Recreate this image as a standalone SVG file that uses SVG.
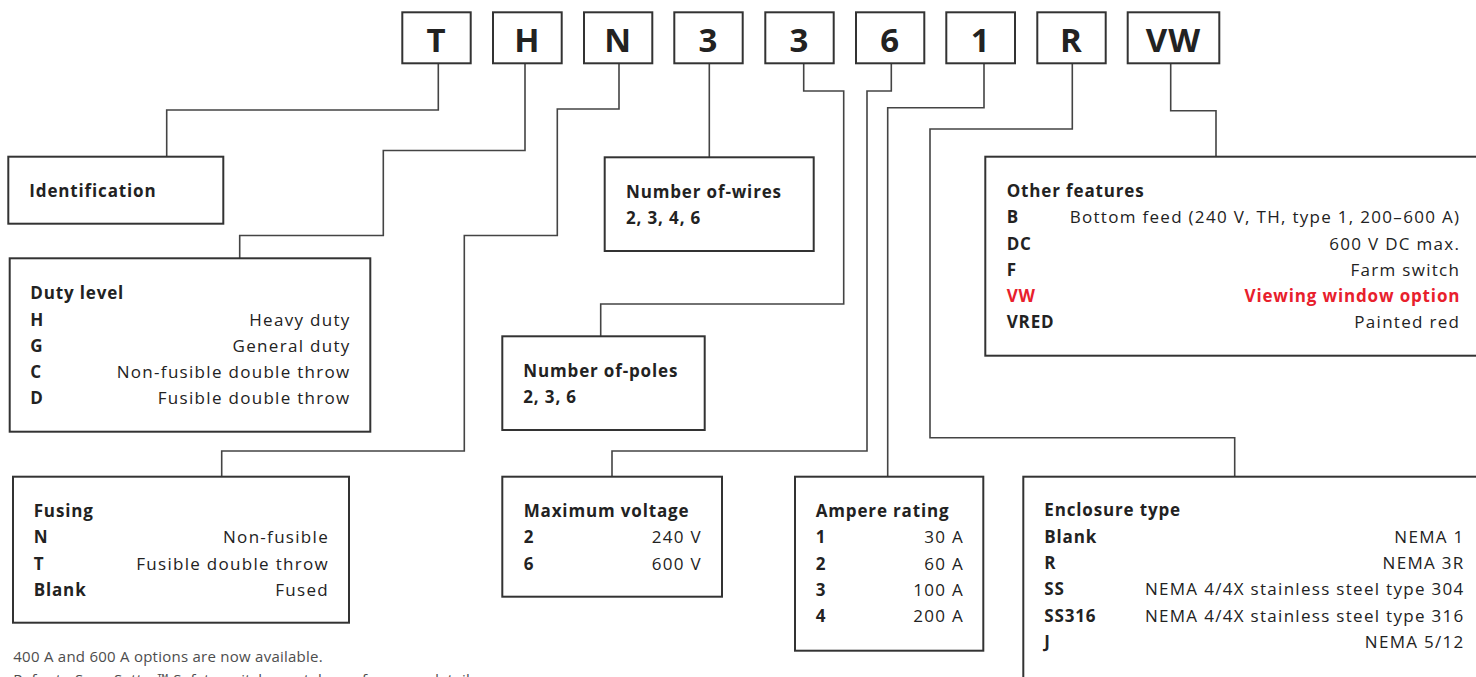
<svg xmlns="http://www.w3.org/2000/svg" width="1476" height="677" viewBox="0 0 1476 677">
<style>
.box{fill:#fff;stroke:#333;stroke-width:2}
.con{fill:none;stroke:#444;stroke-width:1.6}
text{font-family:"Open Sans","Noto Sans","Liberation Sans",sans-serif;fill:#222}
.big{font-size:33px;font-weight:700;text-anchor:middle;letter-spacing:1px}
.h{font-size:17px;font-weight:700;letter-spacing:0.85px}
.k{font-size:17px;font-weight:700;letter-spacing:0.85px}
.v{font-size:17px;font-weight:400;letter-spacing:1.3px;text-anchor:end}
.red{fill:#e8202c}
.note{font-size:15px;fill:#4d4d4d;letter-spacing:0.25px}
</style>
<g id="connectors">
<polyline class="con" points="438.3,63 438.3,110 166.7,110 166.7,156.7"/>
<polyline class="con" points="525,63 525,150.5 383.3,150.5 383.3,235.5 239.7,235.5 239.7,258.3"/>
<polyline class="con" points="619,63 619,109 557.3,109 557.3,235.5 464.3,235.5 464.3,451 221.7,451 221.7,476.7"/>
<polyline class="con" points="709.3,63 709.3,157.3"/>
<polyline class="con" points="803.7,63 803.7,91 843.7,91 843.7,304 600.7,304 600.7,336.3"/>
<polyline class="con" points="891.3,63 891.3,91 867,91 867,451 612,451 612,476.7"/>
<polyline class="con" points="984,63 984,107.7 887.7,107.7 887.7,476.7"/>
<polyline class="con" points="1072.3,63 1072.3,129 930,129 930,437.7 1234.7,437.7 1234.7,476.7"/>
<polyline class="con" points="1170.7,63 1170.7,110.7 1216,110.7 1216,156.7"/>
</g>
<g id="code-T"><rect class="box" x="402.3" y="12.3" width="68.4" height="51"/><text class="big" x="436.5" y="52">T</text></g>
<g id="code-H"><rect class="box" x="493" y="12.3" width="68.7" height="51"/><text class="big" x="527.3" y="52">H</text></g>
<g id="code-N"><rect class="box" x="584" y="12.3" width="68.3" height="51"/><text class="big" x="618.2" y="52">N</text></g>
<g id="code-3a"><rect class="box" x="674.3" y="12.3" width="68.4" height="51"/><text class="big" x="708.5" y="52">3</text></g>
<g id="code-3b"><rect class="box" x="765.3" y="12.3" width="68.4" height="51"/><text class="big" x="799.5" y="52">3</text></g>
<g id="code-6"><rect class="box" x="856" y="12.3" width="68.3" height="51"/><text class="big" x="890.2" y="52">6</text></g>
<g id="code-1"><rect class="box" x="946.3" y="12.3" width="68.7" height="51"/><text class="big" x="980.7" y="52">1</text></g>
<g id="code-R"><rect class="box" x="1037.3" y="12.3" width="68.4" height="51"/><text class="big" x="1071.5" y="52">R</text></g>
<g id="code-VW"><rect class="box" x="1127.7" y="12.3" width="91.6" height="51"/><text class="big" x="1173.5" y="52">VW</text></g>

<g id="identification"><rect class="box" x="8.3" y="156.7" width="215" height="67"/><text class="h" x="29.3" y="197.3">Identification</text></g>

<g id="duty-level"><rect class="box" x="9.7" y="258.3" width="360.6" height="173.4"/>
<text class="h" x="30.3" y="299.3">Duty level</text>
<text class="k" x="30.3" y="325.5">H</text><text class="v" x="350.6" y="325.5">Heavy duty</text>
<text class="k" x="30.3" y="351.7">G</text><text class="v" x="350.6" y="351.7">General duty</text>
<text class="k" x="30.3" y="378">C</text><text class="v" x="350.6" y="378">Non-fusible double throw</text>
<text class="k" x="30.3" y="404.3">D</text><text class="v" x="350.6" y="404.3">Fusible double throw</text>
</g>

<g id="fusing"><rect class="box" x="13" y="476.7" width="336" height="146"/>
<text class="h" x="33.7" y="517.3">Fusing</text>
<text class="k" x="33.7" y="543.3">N</text><text class="v" x="329" y="543.3">Non-fusible</text>
<text class="k" x="33.7" y="569.5">T</text><text class="v" x="329" y="569.5">Fusible double throw</text>
<text class="k" x="33.7" y="595.7">Blank</text><text class="v" x="329" y="595.7">Fused</text>
</g>

<g id="number-of-wires"><rect class="box" x="604.7" y="157.3" width="209" height="93.7"/>
<text class="h" x="626" y="197.7">Number of-wires</text>
<text class="h" x="626" y="224">2, 3, 4, 6</text>
</g>

<g id="number-of-poles"><rect class="box" x="502.3" y="336.3" width="202.4" height="93.7"/>
<text class="h" x="523.3" y="376.7">Number of-poles</text>
<text class="h" x="523.3" y="402.7">2, 3, 6</text>
</g>

<g id="maximum-voltage"><rect class="box" x="502.3" y="476.7" width="219.7" height="120"/>
<text class="h" x="523.7" y="517.3">Maximum voltage</text>
<text class="k" x="523.7" y="543.3">2</text><text class="v" x="702" y="543.3">240 V</text>
<text class="k" x="523.7" y="569.5">6</text><text class="v" x="702" y="569.5">600 V</text>
</g>

<g id="ampere-rating"><rect class="box" x="795" y="476.7" width="188.3" height="174"/>
<text class="h" x="815.7" y="517.3">Ampere rating</text>
<text class="k" x="815.7" y="543.3">1</text><text class="v" x="964" y="543.3">30 A</text>
<text class="k" x="815.7" y="569.5">2</text><text class="v" x="964" y="569.5">60 A</text>
<text class="k" x="815.7" y="595.7">3</text><text class="v" x="964" y="595.7">100 A</text>
<text class="k" x="815.7" y="621.8">4</text><text class="v" x="964" y="621.8">200 A</text>
</g>

<g id="other-features"><rect class="box" x="985.3" y="156.7" width="510" height="199"/>
<text class="h" x="1006.7" y="196.7">Other features</text>
<text class="k" x="1006.7" y="222.8">B</text><text class="v" x="1460.3" y="222.8">Bottom feed (240 V, TH, type 1, 200–600 A)</text>
<text class="k" x="1006.7" y="249.5">DC</text><text class="v" x="1460.3" y="249.5">600 V DC max.</text>
<text class="k" x="1006.7" y="275.8">F</text><text class="v" x="1460.3" y="275.8">Farm switch</text>
<text class="k red" x="1006.7" y="302.3">VW</text><text class="v red" x="1460.3" y="302.3" style="font-weight:700;letter-spacing:0.85px">Viewing window option</text>
<text class="k" x="1006.7" y="328.3">VRED</text><text class="v" x="1460.3" y="328.3">Painted red</text>
</g>

<g id="enclosure-type"><rect class="box" x="1023.3" y="476.7" width="470" height="230"/>
<text class="h" x="1044.3" y="516.3">Enclosure type</text>
<text class="k" x="1044.3" y="542.7">Blank</text><text class="v" x="1464.6" y="542.7">NEMA 1</text>
<text class="k" x="1044.3" y="569">R</text><text class="v" x="1464.6" y="569">NEMA 3R</text>
<text class="k" x="1044.3" y="595.3">SS</text><text class="v" x="1464.6" y="595.3">NEMA 4/4X stainless steel type 304</text>
<text class="k" x="1044.3" y="621.7">SS316</text><text class="v" x="1464.6" y="621.7">NEMA 4/4X stainless steel type 316</text>
<text class="k" x="1044.3" y="648.3">J</text><text class="v" x="1464.6" y="648.3">NEMA 5/12</text>
</g>

<g id="footnote">
<text class="note" x="13.3" y="661.7">400 A and 600 A options are now available.</text>
<text class="note" x="13.3" y="685">Refer to Spec-Setter™ Safety switches catalogue for more details</text>
</g>
</svg>
